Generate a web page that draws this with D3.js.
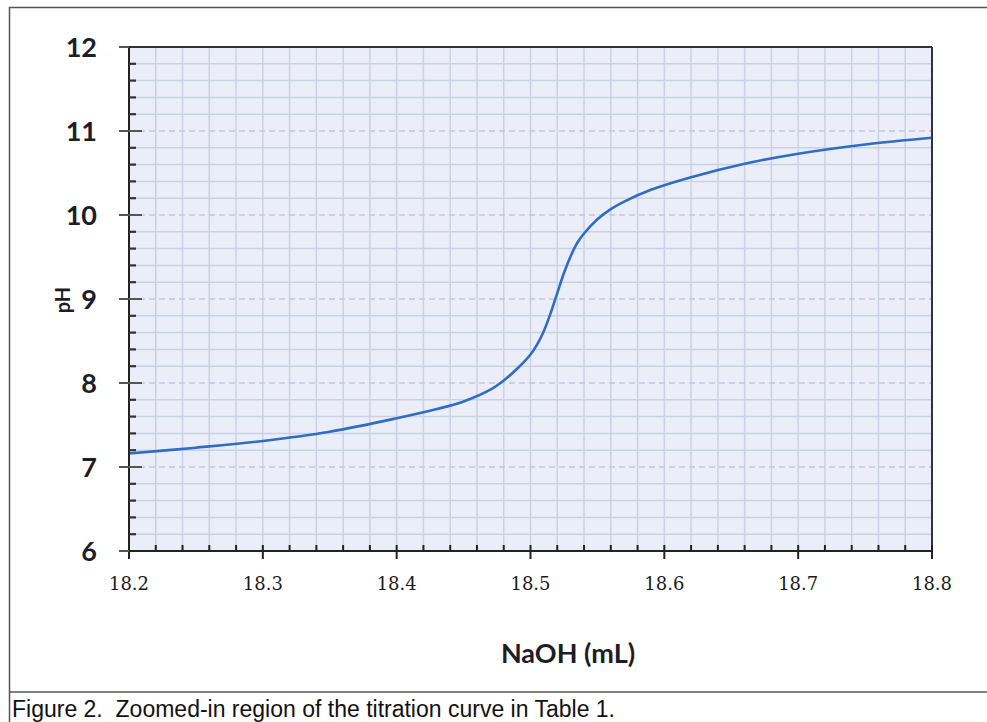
<!DOCTYPE html>
<html>
<head>
<meta charset="utf-8">
<script src="https://cdn.jsdelivr.net/npm/d3@7"></script>
<style>
  body { margin: 0; background: #fff; }
  svg { display: block; }
</style>
</head>
<body>
<div id="chart"></div>
<script>
// NaOH volume (mL) and pH
const naoh = [18.20, 18.25, 18.30, 18.35, 18.40, 18.43, 18.45, 18.47, 18.48, 18.49,
              18.50, 18.505, 18.51, 18.515, 18.52, 18.525, 18.53, 18.535, 18.54, 18.55,
              18.56, 18.57, 18.59, 18.62, 18.66, 18.70, 18.75, 18.80];
const ph = [7.16, 7.23, 7.31, 7.42, 7.58, 7.69, 7.78, 7.92, 8.03, 8.17,
            8.34, 8.46, 8.62, 8.83, 9.07, 9.31, 9.51, 9.67, 9.78, 9.95,
            10.07, 10.16, 10.30, 10.45, 10.61, 10.73, 10.84, 10.92];
const xTicks = [18.2, 18.3, 18.4, 18.5, 18.6, 18.7, 18.8];
const yTicks = [6, 7, 8, 9, 10, 11, 12];
const caption = 'Figure 2.  Zoomed-in region of the titration curve in Table 1.';

const W = 987, H = 722;
const margin = {top: 47, right: 55, bottom: 171, left: 129};
const width = W - margin.left - margin.right,
      height = H - margin.top - margin.bottom;

const svg = d3.select('#chart').append('svg')
    .attr('width', W)
    .attr('height', H);

// outer frame + caption box
svg.append('rect')
    .attr('x', 9.5).attr('y', 7.5)
    .attr('width', W).attr('height', H)
    .attr('fill', 'none').attr('stroke', '#555').attr('stroke-width', 1.5);
svg.append('line')
    .attr('x1', 9).attr('x2', W).attr('y1', 692).attr('y2', 692)
    .attr('stroke', '#555').attr('stroke-width', 1.5);
svg.append('text')
    .attr('x', 12).attr('y', 717)
    .attr('font-family', 'Liberation Sans, Arial, sans-serif')
    .attr('font-size', 23)
    .attr('fill', '#111')
    .style('white-space', 'pre')
    .text(caption);

const g = svg.append('g')
    .attr('transform', 'translate(' + margin.left + ',' + margin.top + ')');

const x = d3.scaleLinear().domain([18.2, 18.8]).range([0, width]);
const y = d3.scaleLinear().domain([6, 12]).range([height, 0]);

g.append('rect')
    .attr('width', width).attr('height', height)
    .attr('fill', '#ebeef9');

// grid: every 0.02 mL and 0.2 pH
const xMinor = d3.range(1, 30).map(i => 18.2 + i * 0.02);
const yMinor = d3.range(1, 30).map(i => 6 + i * 0.2);
const isInt = d => Math.abs(d - Math.round(d)) < 1e-6;

g.append('g').selectAll('line')
    .data(xMinor)
    .join('line')
    .attr('x1', d => x(d)).attr('x2', d => x(d))
    .attr('y1', 0).attr('y2', height)
    .attr('stroke', '#cbd1e4').attr('stroke-width', 1.5);

g.append('g').selectAll('line')
    .data(yMinor)
    .join('line')
    .attr('x1', 0).attr('x2', width)
    .attr('y1', d => y(d)).attr('y2', d => y(d))
    .attr('stroke', d => isInt(d) ? '#c2c7da' : '#cbd1e4')
    .attr('stroke-width', 1.5)
    .attr('stroke-dasharray', d => isInt(d) ? '6,4' : null);

// curve
const line = d3.line()
    .x((d, i) => x(naoh[i]))
    .y(d => y(d))
    .curve(d3.curveCatmullRom.alpha(0.5));

g.append('path')
    .datum(ph)
    .attr('d', line)
    .attr('fill', 'none')
    .attr('stroke', '#2f6cc4')
    .attr('stroke-width', 2.6);

// frame
g.append('line').attr('x1', -10).attr('x2', width).attr('y1', 0).attr('y2', 0)
    .attr('stroke', '#333').attr('stroke-width', 2);
g.append('line').attr('x1', width).attr('x2', width).attr('y1', 0).attr('y2', height + 6)
    .attr('stroke', '#333').attr('stroke-width', 2);

// x axis
const xAxis = g.append('g')
    .attr('transform', 'translate(0,' + height + ')');
xAxis.append('line').attr('x1', -10).attr('x2', width).attr('y1', 0).attr('y2', 0)
    .attr('stroke', '#222').attr('stroke-width', 2.2);
xAxis.selectAll('.minor')
    .data(xMinor.filter(d => Math.abs(d * 10 - Math.round(d * 10)) > 1e-6))
    .join('line')
    .attr('x1', d => x(d)).attr('x2', d => x(d))
    .attr('y1', 0).attr('y2', -6)
    .attr('stroke', '#222').attr('stroke-width', 2);
xAxis.selectAll('.major')
    .data(xTicks)
    .join('line')
    .attr('x1', d => x(d)).attr('x2', d => x(d))
    .attr('y1', -6).attr('y2', 8)
    .attr('stroke', '#222').attr('stroke-width', 2);
xAxis.selectAll('text')
    .data(xTicks)
    .join('text')
    .attr('x', d => x(d)).attr('y', 39)
    .attr('text-anchor', 'middle')
    .attr('font-family', 'DejaVu Serif, serif')
    .attr('font-size', 18)
    .attr('fill', '#1a1a1a')
    .text(d => d.toFixed(1));

// y axis
const yAxis = g.append('g');
yAxis.append('line').attr('x1', 0).attr('x2', 0).attr('y1', 0).attr('y2', height)
    .attr('stroke', '#222').attr('stroke-width', 2);
yAxis.selectAll('.minor')
    .data(yMinor.filter(d => !isInt(d)))
    .join('line')
    .attr('x1', 0).attr('x2', 7)
    .attr('y1', d => y(d)).attr('y2', d => y(d))
    .attr('stroke', '#333').attr('stroke-width', 2.2);
yAxis.selectAll('.major')
    .data(yTicks)
    .join('line')
    .attr('x1', -10).attr('x2', d => (d === 12 || d === 6) ? 0 : 13)
    .attr('y1', d => y(d)).attr('y2', d => y(d))
    .attr('stroke', '#555').attr('stroke-width', 2);
yAxis.selectAll('text')
    .data(yTicks)
    .join('text')
    .attr('x', -32).attr('y', d => y(d))
    .attr('dy', '0.36em')
    .attr('text-anchor', 'end')
    .attr('font-family', 'Lato, DejaVu Sans, sans-serif')
    .attr('font-weight', 'bold')
    .attr('font-size', 27)
    .attr('fill', '#1d1d28')
    .text(d => d);

// axis titles
svg.append('text')
    .attr('transform', 'translate(70,300) rotate(-90)')
    .attr('text-anchor', 'middle')
    .attr('font-family', 'Lato, DejaVu Sans, sans-serif')
    .attr('font-weight', 'bold')
    .attr('font-size', 20)
    .attr('fill', '#1d1d28')
    .text('pH');

svg.append('text')
    .attr('x', 568).attr('y', 663)
    .attr('text-anchor', 'middle')
    .attr('font-family', 'Lato, DejaVu Sans, sans-serif')
    .attr('font-weight', 'bold')
    .attr('font-size', 27)
    .attr('fill', '#1d1d28')
    .text('NaOH (mL)');
</script>
</body>
</html>
